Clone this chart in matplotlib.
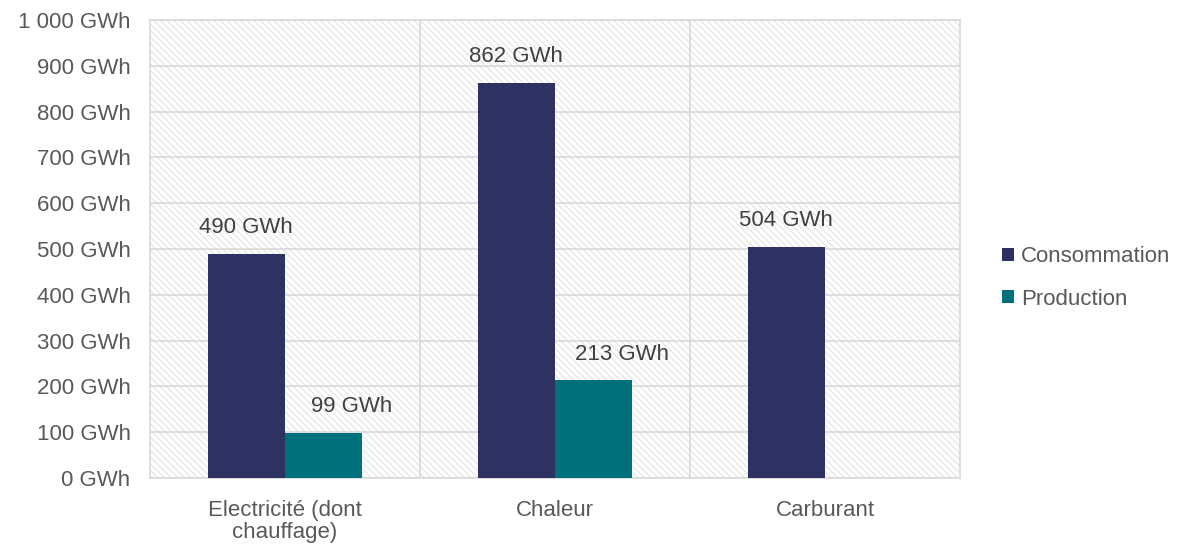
import matplotlib
matplotlib.use("Agg")
import matplotlib.pyplot as plt
import numpy as np

categories = ["Electricité (dont\nchauffage)", "Chaleur", "Carburant"]
consommation = [490, 862, 504]
production = [99, 213, 0]
yticks = [0, 100, 200, 300, 400, 500, 600, 700, 800, 900, 1000]
ytick_labels = ["0 GWh", "100 GWh", "200 GWh", "300 GWh", "400 GWh", "500 GWh",
                "600 GWh", "700 GWh", "800 GWh", "900 GWh", "1 000 GWh"]

plt.rcParams['font.family'] = ['Liberation Sans', 'DejaVu Sans']
plt.rcParams['hatch.linewidth'] = 0.8
txt = '#595959'
c_cons = '#2E3262'
c_prod = '#00707A'
fs = 16

fig = plt.figure(figsize=(11.87, 5.48), dpi=100)
ax = fig.add_axes([150/1187, 70/548, 810/1187, 458/548])

# hatched background
ax.add_patch(plt.Rectangle((0, 0), 1, 1, transform=ax.transAxes, facecolor='white',
                           edgecolor='#e2e2e2', hatch='\\\\\\\\\\', linewidth=0, zorder=0))

x = np.arange(len(categories))
w = 0.287
b1 = ax.bar(x - w/2, consommation, w, color=c_cons, label='Consommation', zorder=3)
b2 = ax.bar(x + w/2, [p if p else np.nan for p in production], w, color=c_prod,
            label='Production', zorder=3)

for xi, v in zip(x - w/2, consommation):
    ax.annotate(f"{v} GWh", (xi, v), xytext=(0, 19), textcoords='offset points',
                ha='center', va='center', fontsize=fs, color='#404040')
for xi, v in zip(x + w/2, production):
    if v:
        ax.annotate(f"{v} GWh", (xi, v), xytext=(20, 19), textcoords='offset points',
                    ha='center', va='center', fontsize=fs, color='#404040')

ax.set_xlim(-0.5, 2.5)
ax.set_ylim(0, 1000)
ax.set_yticks(yticks)
ax.set_yticklabels(ytick_labels)
ax.set_xticks(x)
ax.set_xticklabels(categories, linespacing=1.05)
ax.tick_params(axis='both', length=0, labelsize=fs, colors=txt)
ax.tick_params(axis='y', pad=14)
ax.tick_params(axis='x', pad=16)
ax.set_axisbelow(True)
ax.yaxis.grid(True, color='#d9d9d9', linewidth=1.2, zorder=1)
for xv in [0.5, 1.5]:
    ax.axvline(xv, color='#d9d9d9', linewidth=1.2, zorder=1)
for s in ax.spines.values():
    s.set_color('#d9d9d9')
    s.set_linewidth(1.2)

leg = fig.legend(handles=[b1, b2], labels=['Consommation', 'Production'],
                 loc='center left', bbox_to_anchor=(982/1187, 1 - 278/548),
                 frameon=False, fontsize=fs, handlelength=0.55, handleheight=0.55,
                 handletextpad=0.3, labelspacing=0.95)
for t in leg.get_texts():
    t.set_color(txt)

fig.savefig("out.png", dpi=100)
